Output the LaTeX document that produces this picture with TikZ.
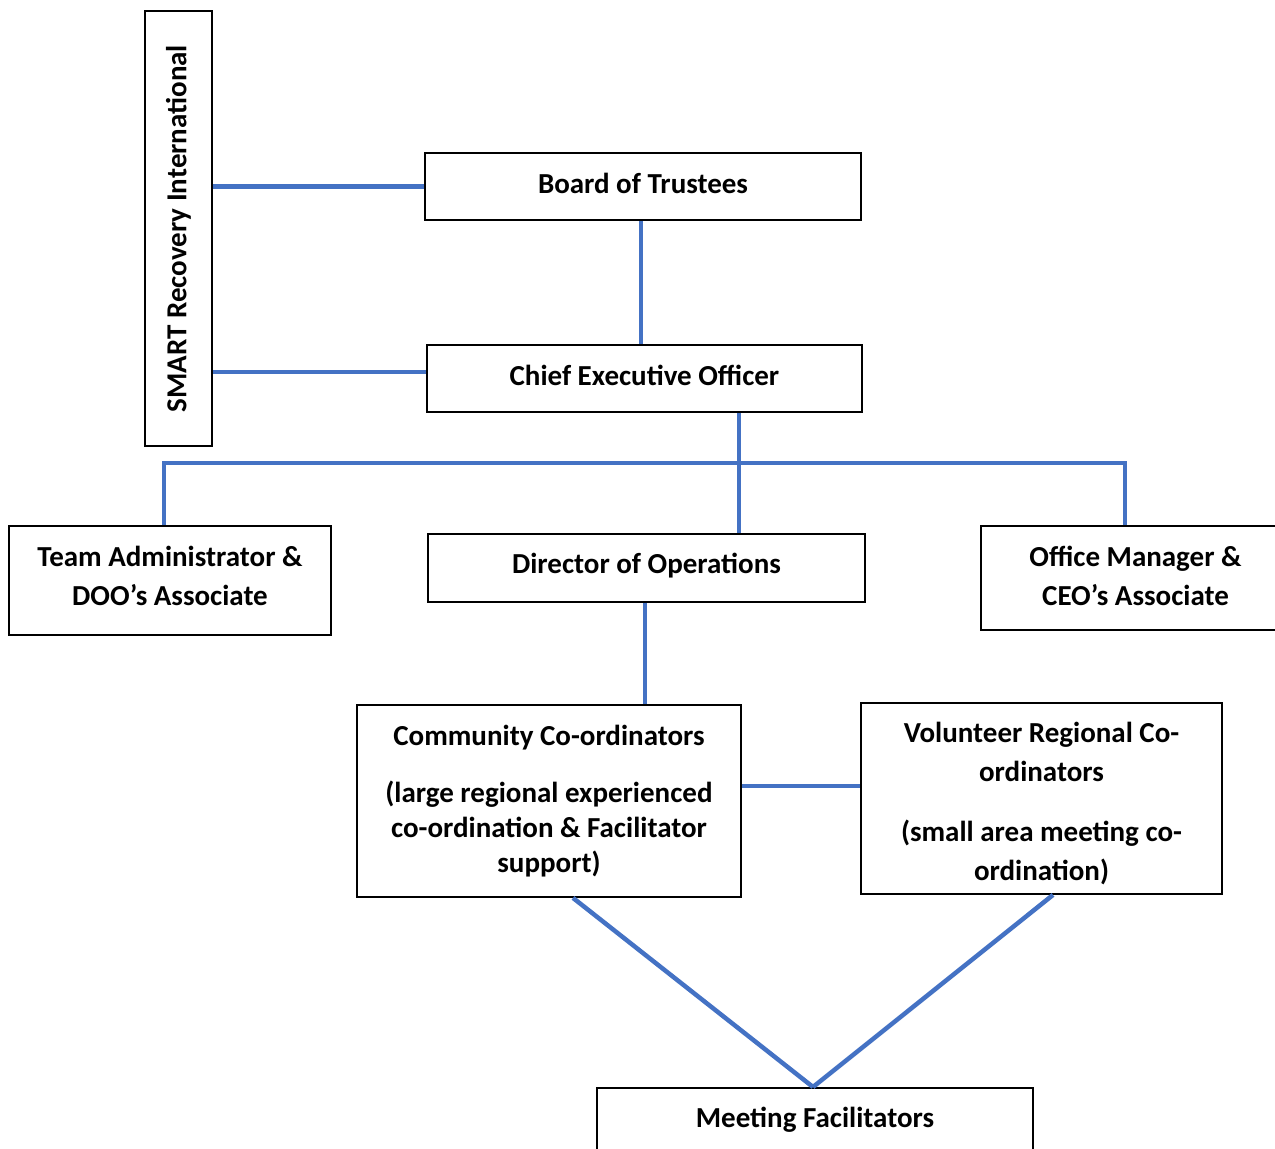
\documentclass[tikz,border=0pt]{standalone}
\usepackage{fontspec}
\setmainfont{Carlito}
\usetikzlibrary{calc}
\definecolor{linkblue}{HTML}{4472C4}
\begin{document}
\begin{tikzpicture}[x=1pt,y=-1pt,
  box/.style={draw=black,line width=1.8pt,inner sep=0pt,align=center,
    font=\fontsize{29}{39}\selectfont\bfseries},
  link/.style={draw=linkblue,line width=4.5pt}]
\useasboundingbox (0,0) rectangle (1275,1149);
\node[box,rotate=90,minimum width=435,minimum height=67] (smart) at (178.5,228.5) {SMART Recovery International};
\node[box,minimum width=436,minimum height=67,text depth=6pt] (board) at (643,186.5) {Board of Trustees};
\node[box,minimum width=435,minimum height=67,text depth=6pt] (ceo) at (644.5,378.5) {Chief Executive Officer};
\node[box,minimum width=322,minimum height=109,text depth=10pt] (team) at (170,580.5) {Team Administrator \&\\DOO’s Associate};
\node[box,minimum width=437,minimum height=68,text depth=10pt] (doo) at (646.5,568) {Director of Operations};
\node[box,minimum width=309,minimum height=104,text depth=5pt] (office) at (1135.5,578) {Office Manager \&\\CEO’s Associate};
\node[box,minimum width=384,minimum height=192,font=\fontsize{29}{35}\selectfont\bfseries] (comm) at (549,801) {Community Co-ordinators\\[22pt](large regional experienced\\co-ordination \& Facilitator\\support)};
\node[box,minimum width=361,minimum height=191] (vol) at (1041.5,798.5) {\rule{0pt}{31pt}Volunteer Regional Co-\\ordinators\\[21pt](small area meeting co-\\ordination)};
\node[box,anchor=north,minimum width=436,text height=40pt,text depth=40pt] (meet) at (815,1087) {Meeting Facilitators};
\coordinate (bus) at (739,463);
\draw[link] (board.west -| smart.south) -- (board.west);
\draw[link] ([yshift=6.5pt]ceo.west -| smart.south) -- ([yshift=6.5pt]ceo.west);
\draw[link] ([xshift=-2pt]board.south) -- ([xshift=-2pt]board.south |- ceo.north);
\draw[link] ([xshift=94.5pt]ceo.south) -- ([xshift=94.5pt]ceo.south |- doo.north);
\draw[link] ([xshift=-6pt]team.north) |- (bus) -| ([xshift=-10.5pt]office.north);
\draw[link] ([xshift=-1.5pt]doo.south) -- ([xshift=-1.5pt]doo.south |- comm.north);
\draw[link] ([yshift=15pt]comm.east) -- ([yshift=15pt]comm.east -| vol.west);
\draw[link] ([xshift=24pt]comm.south) -- ([xshift=-2pt]meet.north);
\draw[link] ([xshift=11.5pt]vol.south) -- ([xshift=-2pt]meet.north);
\end{tikzpicture}
\end{document}
